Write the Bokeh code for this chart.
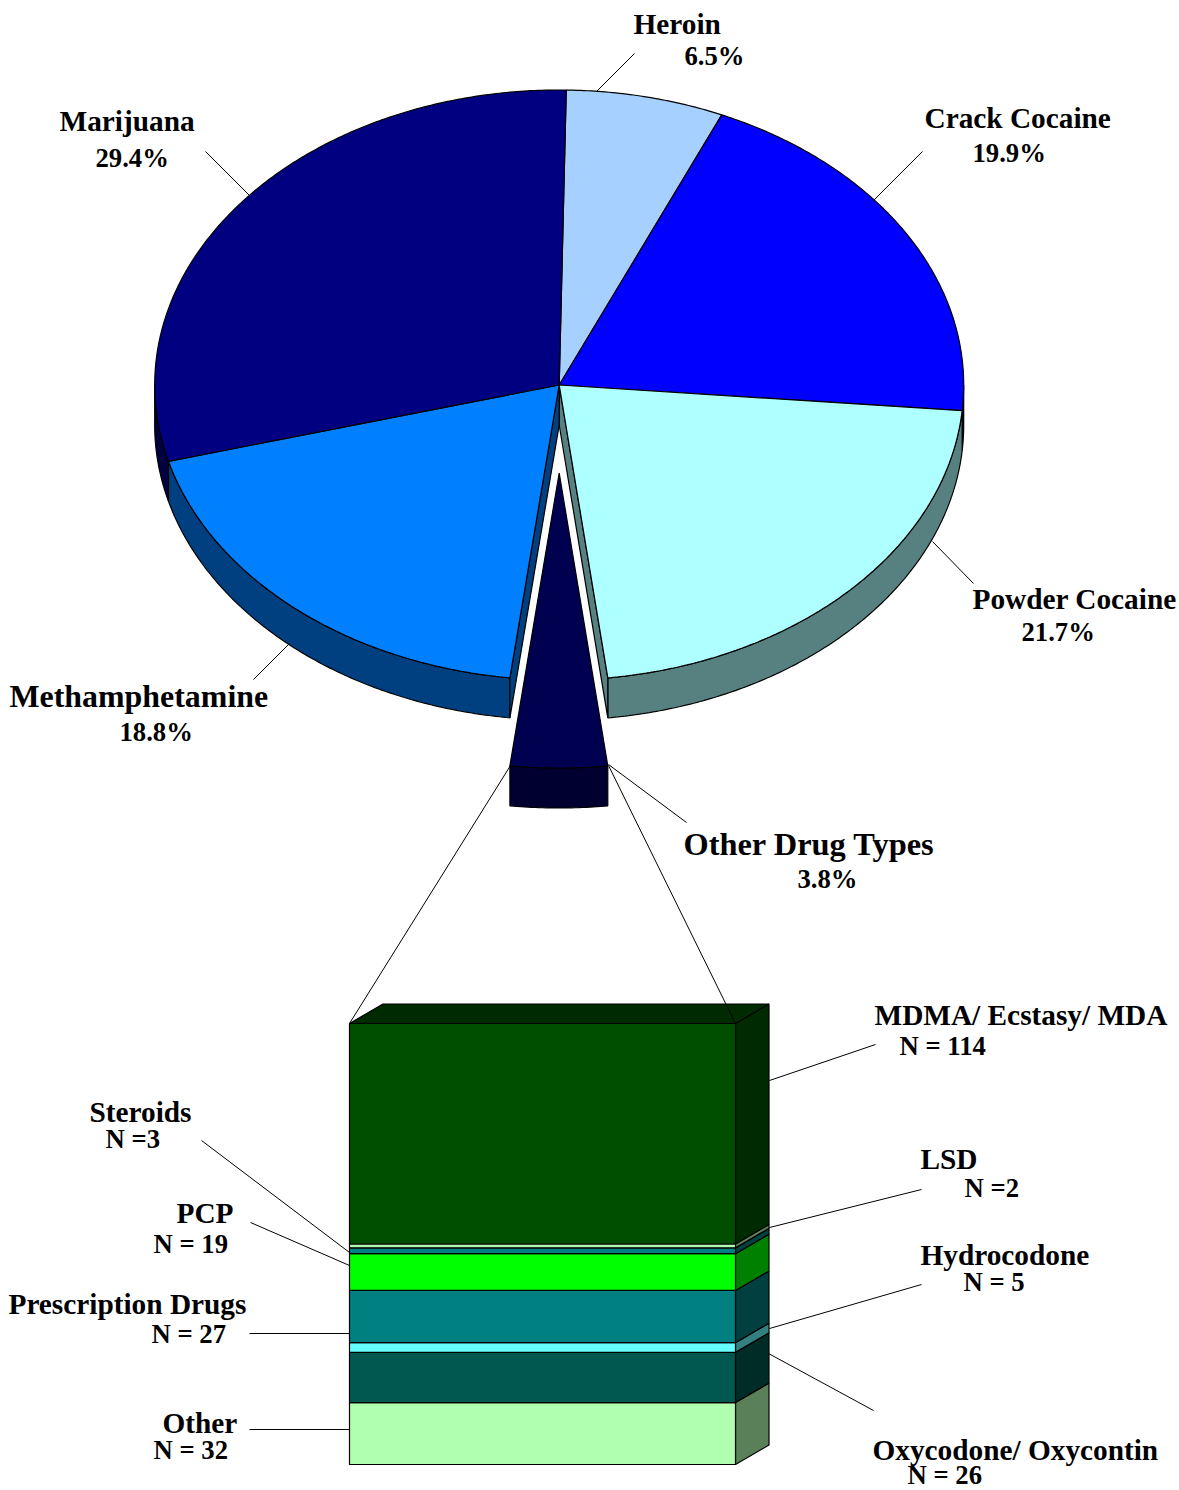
import math
from bokeh.plotting import figure
from bokeh.models import Range1d
from bokeh.core.properties import value
from bokeh.embed import file_html
from bokeh.resources import INLINE

# ---- data -----
pie_names = ["Heroin", "Crack Cocaine", "Powder Cocaine", "Other Drug Types", "Methamphetamine", "Marijuana"]
pie_pct = [6.5, 19.9, 21.7, 3.8, 18.8, 29.4]
# slice sizes in degrees, as measured on the picture
pie_deg = [22.7, 71.3, 78.1, 13.9, 68.0, 106.0]
stack_names = ["Other", "Oxycodone/ Oxycontin", "Hydrocodone", "Prescription Drugs", "PCP", "Steroids", "LSD", "MDMA/ Ecstasy/ MDA"]
stack_n = [32, 26, 5, 27, 19, 3, 2, 114]
stack_n_labels = ["N = 32", "N = 26", "N = 5", "N = 27", "N = 19", "N =3", "N =2", "N = 114"]

# ---- styles ----
pie_top = ["#a6d0ff", "#0000ff", "#aeffff", "#000050", "#0080ff", "#000080"]
pie_wall = ["#536880", "#000040", "#578080", "#000030", "#004080", "#000040"]
stack_front = ["#b0ffb0", "#005850", "#66ffff", "#008080", "#00ff00", "#008080", "#b0ffb0", "#004f00"]
stack_side = ["#5a805a", "#002c28", "#338080", "#004040", "#008000", "#004040", "#5a805a", "#002b00"]
FONT = value("Liberation Serif")

# ---- layout (page pixels) ----
CX, CY, RX, RY, DEPTH, EXPLODE = 558.7, 384.5, 404.5, 295, 40, 88
START = 1.0
BX0, BX1, BY0, BY1, DX, DY = 349, 735, 1464, 1023, 33.5, 19.5
LW = 1.2

p = figure(width=1179, height=1490, x_range=Range1d(0, 1179), y_range=Range1d(1490, 0),
           output_backend="svg", toolbar_location=None, min_border=0)
p.axis.visible = False
p.grid.visible = False
p.outline_line_color = None
p.background_fill_color = "white"


def rim(a, dy=0):
    r = math.radians(a)
    return CX + RX * math.sin(r), CY + dy - RY * math.cos(r)


def arc(a0, a1, dy=0):
    n = max(2, int(abs(a1 - a0) * 2))
    return [rim(a0 + (a1 - a0) * i / n, dy) for i in range(n + 1)]


def poly(pts, fill):
    p.patch([q[0] for q in pts], [q[1] for q in pts], fill_color=fill, line_color="black", line_width=LW)


def seg(x0, y0, x1, y1):
    p.line([x0, x1], [y0, y1], line_color="black", line_width=1)


spans = []
a = START
for v in pie_deg:
    spans.append((a, a + v))
    a += v

OTHER = pie_names.index("Other Drug Types")

# side walls of the undisplaced slices
for i, (a0, a1) in enumerate(spans):
    if i == OTHER:
        continue
    lo, hi = max(a0, 90), min(a1, 270)
    if lo < hi:
        top = arc(lo, hi)
        poly(top + [(q[0], q[1] + DEPTH) for q in reversed(top)], pie_wall[i])

# cut walls either side of the gap
a_l, a_r = spans[OTHER]
for ang, idx in ((a_l, OTHER - 1), (a_r, OTHER + 1)):
    e = rim(ang)
    poly([(CX, CY), e, (e[0], e[1] + DEPTH), (CX, CY + DEPTH)], pie_wall[idx])
# top faces
for i, (a0, a1) in enumerate(spans):
    if i == OTHER:
        continue
    poly([(CX, CY)] + arc(a0, a1), pie_top[i])

# displaced slice
ex_top = arc(a_l, a_r, EXPLODE)
poly(ex_top + [(q[0], q[1] + DEPTH) for q in reversed(ex_top)], pie_wall[OTHER])
poly([(CX, CY + EXPLODE)] + ex_top, pie_top[OTHER])

# stacked column
unit = (BY0 - BY1) / sum(stack_n)
base = 0
for n, f, s in zip(stack_n, stack_front, stack_side):
    yb, yt = BY0 - base * unit, BY0 - (base + n) * unit
    poly([(BX1, yb), (BX1 + DX, yb - DY), (BX1 + DX, yt - DY), (BX1, yt)], s)
    p.quad(left=BX0, right=BX1, bottom=yb, top=yt, fill_color=f, line_color="black", line_width=LW)
    base += n
poly([(BX0, BY1), (BX0 + DX, BY1 - DY), (BX1 + DX, BY1 - DY), (BX1, BY1)], stack_side[-1])

# leaders
leaders = [(634, 53, 596, 91), (922, 151, 873, 200), (205, 151, 249, 195), (973, 583, 932, 541),
           (289, 643, 253, 679), (686, 822, 608, 764), (510, 765, 349, 1023), (608, 765, 735, 1023),
           (875, 1044, 769, 1080), (921, 1189, 769, 1227), (921, 1284, 769, 1328), (873, 1410, 768, 1353),
           (201, 1140, 349, 1252), (250, 1222, 349, 1265), (249, 1333, 349, 1333), (249, 1429, 349, 1429)]
for L in leaders:
    seg(*L)


def label(x, y, txt, size):
    p.text(x=[x], y=[y], text=[txt], text_font=FONT, text_font_style="bold", text_font_size=size,
           text_color="black", text_align="left", text_baseline="alphabetic", text_line_height=1.0)


pie_pos = {"Heroin": (633, 23, 684, 55, "29.3px"), "Crack Cocaine": (924, 117, 972, 152, "29.3px"),
           "Powder Cocaine": (972, 598, 1021, 631, "29.3px"), "Other Drug Types": (683, 843, 797, 878, "32.4px"),
           "Methamphetamine": (9, 696, 119, 731, "31.9px"), "Marijuana": (59, 120, 95, 157, "29.3px")}
for nm, v in zip(pie_names, pie_pct):
    x0, y0, x1, y1, sz = pie_pos[nm]
    label(x0, y0, nm, sz)
    label(x1, y1, f"{v}%", "26.7px")

stack_pos = {"MDMA/ Ecstasy/ MDA": (874, 1014, 899, 1045), "LSD": (920, 1158, 964, 1187),
             "Hydrocodone": (920, 1254, 963, 1281), "Oxycodone/ Oxycontin": (872, 1449, 907, 1474),
             "Steroids": (89, 1111, 105, 1138), "PCP": (176, 1212, 153, 1243),
             "Prescription Drugs": (8, 1303, 151, 1333), "Other": (162, 1422, 153, 1449)}
for nm, t in zip(stack_names, stack_n_labels):
    x0, y0, x1, y1 = stack_pos[nm]
    label(x0, y0, nm, "29.3px")
    label(x1, y1, t, "26.7px")

open("out.html", "w").write(file_html(p, INLINE))
